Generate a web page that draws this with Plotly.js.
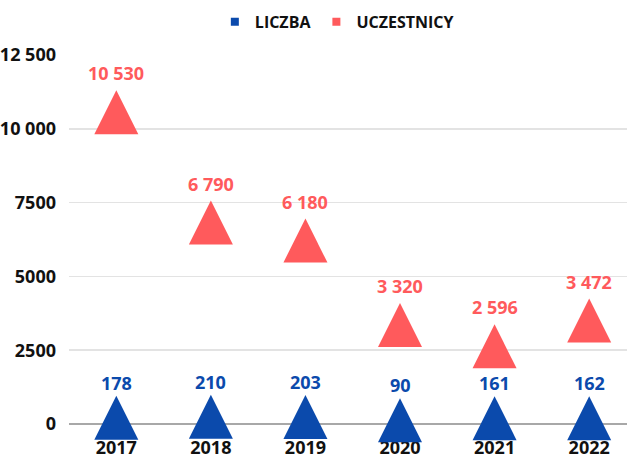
<!DOCTYPE html>
<html>
<head>
<meta charset="utf-8">
<script src="https://cdn.plot.ly/plotly-3.0.1.min.js"></script>
<style>html,body{margin:0;padding:0;background:#fff;}#chart{width:627px;height:454px;}</style>
</head>
<body>
<div id="chart"></div>
<script>
const years = ['2017', '2018', '2019', '2020', '2021', '2022'];
const liczba = [178, 210, 203, 90, 161, 162];
const uczestnicy = [10530, 6790, 6180, 3320, 2596, 3472];
const seriesNames = ['LICZBA', 'UCZESTNICY'];
const yTickVals = [0, 2500, 5000, 7500, 10000, 12500];
const yTickText = ['0', '2500', '5000', '7500', '10 000', '12 500'];

const BLUE = '#0B4AAC';
const RED = '#FF5A5C';
const FONT = '"Open Sans", Roboto, sans-serif';
const STRETCH = 'condensed';

function fmt(v) { return String(v).replace(/\B(?=(\d{3})+(?!\d))/g, ' '); }
const xIdx = years.map((_, i) => i);

function triTrace(y, color) {
  return {
    type: 'scatter', mode: 'markers', x: xIdx, y: y, showlegend: false,
    cliponaxis: false, hoverinfo: 'skip',
    marker: { symbol: 'arrow-down', angle: 180, standoff: 23, size: 44, color: color, line: { width: 0 } }
  };
}
function legendTrace(name, color) {
  return {
    type: 'scatter', mode: 'markers', x: [null], y: [null], name: name, showlegend: true,
    marker: { symbol: 'square', size: 8, color: color }
  };
}

const data = [
  triTrace(uczestnicy, RED),
  triTrace(liczba, BLUE),
  legendTrace(seriesNames[0], BLUE),
  legendTrace(seriesNames[1], RED)
];

function f(color, size) { return { family: FONT, size: size || 18, color: color, weight: 'bold', stretch: STRETCH }; }

const annotations = [];
uczestnicy.forEach((v, i) => annotations.push({
  x: i, y: v, xref: 'x', yref: 'y', text: fmt(v), showarrow: false, yshift: 40, font: f(RED)
}));
liczba.forEach((v, i) => annotations.push({
  x: i, y: v, xref: 'x', yref: 'y', text: fmt(v), showarrow: false, yshift: 36, font: f(BLUE)
}));

const layout = {
  width: 627, height: 454,
  margin: { l: 69, r: 0, t: 55, b: 30 },
  paper_bgcolor: '#ffffff', plot_bgcolor: '#ffffff',
  font: f('#111111'),
  showlegend: true,
  legend: {
    orientation: 'h', x: 0.48, xanchor: 'center', y: 1.09, yanchor: 'middle',
    font: f('#111111', 16), itemwidth: 30, tracegroupgap: 0, bgcolor: 'rgba(0,0,0,0)'
  },
  xaxis: {
    range: [-0.5, 5.4], tickvals: xIdx, ticktext: years, showgrid: false,
    zeroline: false, showline: false, ticks: '', ticklabelstandoff: 11,
    layer: 'below traces', fixedrange: true, tickfont: f('#111111')
  },
  yaxis: {
    range: [0, 12500], tickvals: yTickVals, ticktext: yTickText,
    showgrid: true, gridcolor: '#e3e3e3', gridwidth: 1.5,
    zeroline: true, zerolinecolor: '#a8a8a8', zerolinewidth: 1.5,
    showline: false, ticks: '', ticklabelstandoff: 12, layer: 'below traces', fixedrange: true,
    tickfont: f('#111111')
  },
  annotations: annotations
};

Plotly.newPlot('chart', data, layout, { displayModeBar: false, staticPlot: true });
</script>
</body>
</html>
